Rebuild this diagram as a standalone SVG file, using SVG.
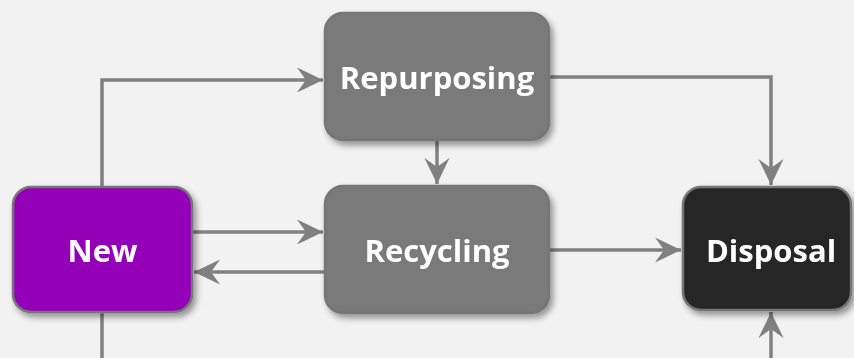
<svg xmlns="http://www.w3.org/2000/svg" width="854" height="358" viewBox="0 0 854 358">
<style>
.lbl{font-family:"Open Sans","Liberation Sans",sans-serif;font-weight:bold;font-size:31px;fill:#ffffff;text-anchor:middle;dominant-baseline:central}
.box{stroke:#767676;stroke-width:2.5}
.con{fill:none;stroke:#808080;stroke-width:3.5}
</style>
<defs>
<filter id="sh" x="-20%" y="-20%" width="150%" height="150%">
<feGaussianBlur in="SourceAlpha" stdDeviation="3"/>
<feOffset dx="3" dy="4" result="b"/>
<feComponentTransfer><feFuncA type="linear" slope="0.4"/></feComponentTransfer>
<feMerge><feMergeNode/><feMergeNode in="SourceGraphic"/></feMerge>
</filter>
<marker id="ah" markerUnits="userSpaceOnUse" markerWidth="28" markerHeight="28" viewBox="-27 -14 28 28" refX="0" refY="0" orient="auto">
<path d="M0,0 L-26,-12.5 L-17,0 L-26,12.5 Z" fill="#808080"/>
</marker>
</defs>
<rect width="854" height="358" fill="#f2f2f2"/>
<g id="connectors">
<path class="con" d="M102,187 V80 H323" marker-end="url(#ah)"/>
<path class="con" d="M549,77 H771 V185" marker-end="url(#ah)"/>
<path class="con" d="M437,140 V184" marker-end="url(#ah)"/>
<path class="con" d="M192,232 H323" marker-end="url(#ah)"/>
<path class="con" d="M325,272 H194" marker-end="url(#ah)"/>
<path class="con" d="M549,250 H681" marker-end="url(#ah)"/>
<path class="con" d="M102,312 V358"/>
<path class="con" d="M771,358 V312" marker-end="url(#ah)"/>
</g>
<g id="new" filter="url(#sh)">
<rect class="box" x="13" y="187" width="179" height="125" rx="18" fill="#9400b8"/>
<text class="lbl" x="102.5" y="250">New</text>
</g>
<g id="repurposing" filter="url(#sh)">
<rect class="box" x="325" y="13" width="224" height="127" rx="18" fill="#7a7a7a" stroke="#7a7a7a"/>
<text class="lbl" x="437" y="77">Repurposing</text>
</g>
<g id="recycling" filter="url(#sh)">
<rect class="box" x="325" y="186" width="224" height="127" rx="18" fill="#7a7a7a" stroke="#7a7a7a"/>
<text class="lbl" x="437" y="250">Recycling</text>
</g>
<g id="disposal" filter="url(#sh)">
<rect class="box" x="683" y="187" width="168" height="123" rx="18" fill="#262626"/>
<text class="lbl" x="771" y="250">Disposal</text>
</g>
</svg>
